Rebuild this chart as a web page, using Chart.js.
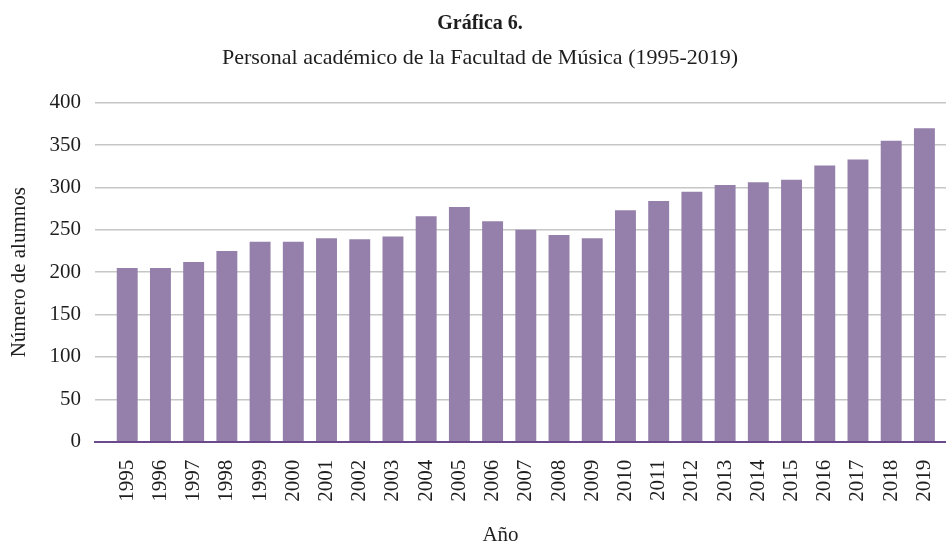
<!DOCTYPE html>
<html>
<head>
<meta charset="utf-8">
<script src="https://cdn.jsdelivr.net/npm/chart.js@4/dist/chart.umd.min.js"></script>
<style>
  html, body { margin: 0; padding: 0; background: #fff; }
  #wrap { width: 946px; height: 546px; }
</style>
</head>
<body>
<div id="wrap"><canvas id="myChart" width="946" height="546"></canvas></div>
<script>
// data
const years = [1995, 1996, 1997, 1998, 1999, 2000, 2001, 2002, 2003, 2004, 2005, 2006,
  2007, 2008, 2009, 2010, 2011, 2012, 2013, 2014, 2015, 2016, 2017, 2018, 2019];
const personal = [205, 205, 212, 225, 236, 236, 240, 239, 242, 266, 277, 260,
  250, 244, 240, 273, 284, 295, 303, 306, 309, 326, 333, 355, 370];
const yTicks = [0, 50, 100, 150, 200, 250, 300, 350, 400];

const FONT = 'Liberation Serif';
const TEXT = '#1e1e1e';

// x axis title drawn by hand (it sits left of the plot centre in the original)
const xTitle = {
  id: 'xTitle',
  afterDraw(chart) {
    const ctx = chart.ctx;
    const ca = chart.chartArea;
    ctx.save();
    ctx.font = '21px "' + FONT + '"';
    ctx.fillStyle = TEXT;
    ctx.textAlign = 'center';
    ctx.textBaseline = 'middle';
    ctx.fillText('Año', (ca.left + ca.right) / 2 - 20, 535);
    ctx.restore();
  }
};

const ctx = document.getElementById('myChart').getContext('2d');
const myChart = new Chart(ctx, {
  type: 'bar',
  data: {
    datasets: [{
      label: 'Personal académico',
      data: years.map((y, i) => ({ x: y, y: personal[i] })),
      backgroundColor: '#9480aa',
      borderWidth: 0,
      barPercentage: 0.63,
      categoryPercentage: 1
    }]
  },
  options: {
    responsive: false,
    animation: false,
    layout: { padding: { left: 14, right: 0, top: 0, bottom: 0 } },
    plugins: {
      legend: { display: false },
      tooltip: { enabled: false },
      title: {
        display: true,
        text: 'Gráfica 6.',
        color: TEXT,
        font: { family: FONT, size: 20, weight: 'bold', lineHeight: 1.2 },
        padding: { top: 12, bottom: 0 }
      },
      subtitle: {
        display: true,
        text: 'Personal académico de la Facultad de Música (1995-2019)',
        color: TEXT,
        font: { family: FONT, size: 22, lineHeight: 1.2 },
        padding: { top: 9, bottom: 31.3 }
      }
    },
    scales: {
      x: {
        type: 'linear',
        offset: false,
        min: 1994.03,
        max: 2019.65,
        grid: { display: false, drawTicks: false },
        border: { display: true, color: '#6a4a8a', width: 2 },
        afterBuildTicks: (scale) => { scale.ticks = years.map(v => ({ value: v })); },
        afterFit: (scale) => { scale.height = 104.3; scale.paddingRight = 0; },
        ticks: {
          autoSkip: false,
          minRotation: 90,
          maxRotation: 90,
          padding: 18,
          color: TEXT,
          font: { family: FONT, size: 21 },
          callback: (v) => String(v)
        }
      },
      y: {
        min: 0,
        max: 400,
        afterBuildTicks: (scale) => { scale.ticks = yTicks.map(v => ({ value: v })); },
        afterFit: (scale) => { scale.width = 81; },
        border: { display: false },
        grid: {
          drawTicks: false,
          lineWidth: 1.5,
          color: (c) => c.tick && c.tick.value === 0 ? 'rgba(0,0,0,0)' : '#c6c6c6'
        },
        ticks: {
          padding: 14,
          color: TEXT,
          font: { family: FONT, size: 21 }
        },
        title: {
          display: true,
          text: 'Número de alumnos',
          color: TEXT,
          font: { family: FONT, size: 21, lineHeight: 0.5 },
          padding: 0
        }
      }
    }
  },
  plugins: [xTitle]
});
</script>
</body>
</html>
